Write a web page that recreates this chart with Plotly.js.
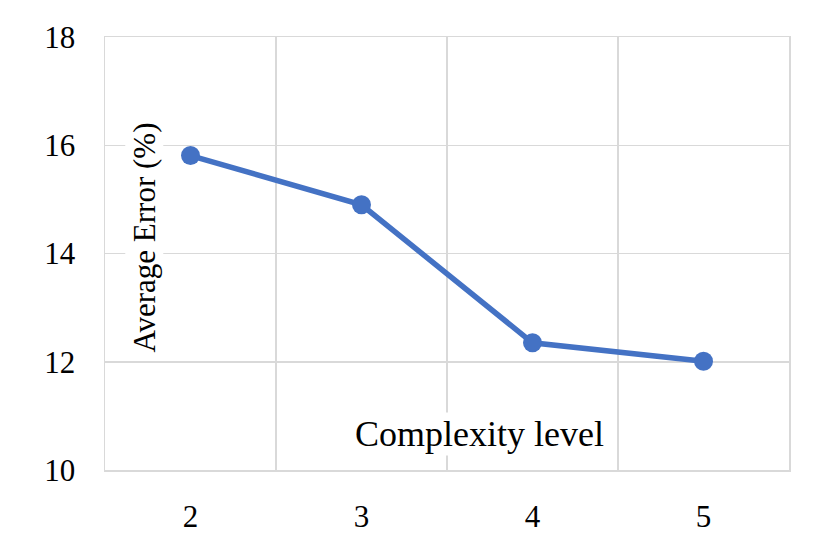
<!DOCTYPE html>
<html>
<head>
<meta charset="utf-8">
<script src="https://cdn.plot.ly/plotly-3.0.1.min.js"></script>
<style>html,body{margin:0;padding:0;background:#fff;}#chart{width:840px;height:550px;}</style>
</head>
<body>
<div id="chart"></div>
<script>
const complexityLevels = ["2", "3", "4", "5"];
const averageError = [15.81, 14.90, 12.35, 12.01];
const yTicks = [10, 12, 14, 16, 18];
const xTitle = "Complexity level";
const yTitle = "Average Error (%)";

const fontFam = "Liberation Serif, Times New Roman, serif";
const gridCol = "#d9d9d9";

const trace = {
  x: complexityLevels,
  y: averageError,
  type: "scatter",
  mode: "lines+markers",
  line: {color: "#4472C4", width: 5.5},
  marker: {color: "#4472C4", size: 19},
  cliponaxis: false,
  hoverinfo: "skip"
};

const layout = {
  width: 840, height: 550,
  margin: {l: 105, r: 51, t: 37, b: 80},
  paper_bgcolor: "#fff", plot_bgcolor: "#fff",
  showlegend: false,
  font: {family: fontFam, size: 30, color: "#000"},
  xaxis: {
    type: "category",
    range: [-0.5, 3.5],
    tickson: "boundaries",
    ticks: "", ticklen: 0,
    showgrid: true, gridcolor: gridCol, gridwidth: 1.5,
    showline: true, linecolor: gridCol, linewidth: 1.5, mirror: true,
    zeroline: false,
    ticklabelstandoff: 18,
    tickfont: {family: fontFam, size: 31, color: "#000"}
  },
  yaxis: {
    range: [10, 18],
    tickvals: yTicks,
    ticktext: yTicks.map(String),
    ticks: "",
    showgrid: true, gridcolor: gridCol, gridwidth: 1.5,
    showline: true, linecolor: gridCol, linewidth: 1.5, mirror: true,
    zeroline: false,
    ticklabelstandoff: 22,
    tickfont: {family: fontFam, size: 31, color: "#000"}
  },
  annotations: [
    {
      text: yTitle, textangle: -90,
      xref: "paper", yref: "paper", x: 0.058, y: 0.536,
      xanchor: "center", yanchor: "middle",
      showarrow: false, bgcolor: "#fff",
      font: {family: fontFam, size: 31, color: "#000"}
    },
    {
      text: xTitle,
      xref: "paper", yref: "paper", x: 0.548, y: 0.083,
      xanchor: "center", yanchor: "middle",
      showarrow: false, bgcolor: "#fff",
      font: {family: fontFam, size: 36, color: "#000"}
    }
  ]
};

Plotly.newPlot("chart", [trace], layout, {staticPlot: true, displayModeBar: false});
</script>
</body>
</html>
